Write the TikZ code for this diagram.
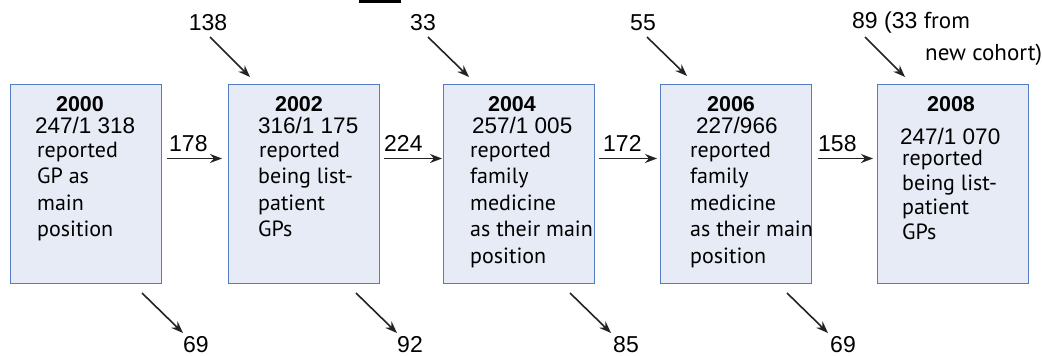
\documentclass[tikz,border=0pt]{standalone}
\usepackage{fontspec}
\setmainfont{Liberation Sans}
\newfontfamily\bodyf{PT Sans}
\usetikzlibrary{arrows.meta}
\definecolor{boxfill}{RGB}{230,235,246}
\definecolor{boxline}{RGB}{84,124,192}
\definecolor{arrcol}{RGB}{35,35,35}
\begin{document}
\begin{tikzpicture}[x=1pt,y=-1pt,
  box/.style={draw=boxline, fill=boxfill, line width=1.4pt, minimum width=151pt, minimum height=199pt, anchor=north west, inner sep=0pt},
  yr/.style={font=\bfseries\fontsize{21.5}{21.5}\selectfont, inner sep=0pt, anchor=base},
  num/.style={font=\fontsize{22.5}{22.5}\selectfont, inner sep=0pt, anchor=base west},
  body/.style={font=\bodyf\fontsize{22}{22}\selectfont, inner sep=0pt, anchor=base west},
  lab/.style={font=\fontsize{23}{23}\selectfont, inner sep=0pt},
  arr/.style={draw=arrcol, line width=1.6pt, -{Stealth[length=12pt,width=9pt]}}]
\useasboundingbox (0,0) rectangle (1042,356);
\fill[black] (359,0) rectangle (401,2.5);
% boxes
\node[box] (b1) at (10,84) {};
\node[box] (b2) at (228,84) {};
\node[box] (b3) at (443,84) {};
\node[box] (b4) at (660,84) {};
\node[box] (b5) at (877,84) {};
% box 1
\node[yr] (y1) at (80,111) {2000};
\node[num] (n1) at (35,133) {247/1 318};
\node[body] (t1a) at (37,157) {reported};
\node[body] (t1b) at (37,183.5) {GP as};
\node[body] (t1c) at (37,210) {main};
\node[body] (t1d) at (37,236.5) {position};
% box 2
\node[yr] (y2) at (299,111) {2002};
\node[num] (n2) at (258,133) {316/1 175};
\node[body] (t2a) at (259,157) {reported};
\node[body] (t2b) at (258,183.5) {being list-};
\node[body] (t2c) at (258,210) {patient};
\node[body] (t2d) at (258,236.5) {GPs};
% box 3
\node[yr] (y3) at (512,111) {2004};
\node[num] (n3) at (472,133) {257/1 005};
\node[body] (t3a) at (470,157) {reported};
\node[body] (t3b) at (470,183.5) {family};
\node[body] (t3c) at (470,210) {medicine};
\node[body] (t3d) at (470,236.5) {as their main};
\node[body] (t3e) at (470,263) {position};
% box 4
\node[yr] (y4) at (731,111) {2006};
\node[num] (n4) at (696,133) {227/966};
\node[body] (t4a) at (690,157) {reported};
\node[body] (t4b) at (690,183.5) {family};
\node[body] (t4c) at (690,210) {medicine};
\node[body] (t4d) at (690,236.5) {as their main};
\node[body] (t4e) at (690,263) {position};
% box 5
\node[yr] (y5) at (951,111) {2008};
\node[num] (n5) at (900,144) {247/1 070};
\node[body] (t5a) at (902,165) {reported};
\node[body] (t5b) at (902,190.5) {being list-};
\node[body] (t5c) at (902,214.5) {patient};
\node[body] (t5d) at (902,239.5) {GPs};
% horizontal arrows
\coordinate (h) at (0,158.5);
\draw[arr, shorten <=5pt, shorten >=6pt] (b1.east |- h) -- (b2.west |- h);
\draw[arr, shorten <=4pt, shorten >=1pt] (b2.east |- h) -- (b3.west |- h);
\draw[arr, shorten <=4pt, shorten >=3pt] (b3.east |- h) -- (b4.west |- h);
\draw[arr, shorten <=6pt, shorten >=4pt] (b4.east |- h) -- (b5.west |- h);
\node[lab, anchor=base west] (h1) at (169,151) {178};
\node[lab, anchor=base west] (h2) at (384,151) {224};
\node[lab, anchor=base west] (h3) at (603,151) {172};
\node[lab, anchor=base west] (h4) at (818,151) {158};
% top inflows
\node[lab] (i2) at (208,23) {138};
\node[lab] (i3) at (423,23) {33};
\node[lab] (i4) at (643,23) {55};
\node[lab, anchor=west] (i5) at (852,23) {89 (33 {\bodyf from}};
\node[lab, anchor=west] (i5b) at (925,55) {\bodyf new cohort)};
\coordinate (s2) at (210,37); \coordinate (e2) at (250,77);
\coordinate (s3) at (428,37); \coordinate (e3) at (469,77);
\coordinate (s4) at (647,37); \coordinate (e4) at (687,76);
\coordinate (s5) at (865,37); \coordinate (e5) at (905,77);
\draw[arr] (s2) -- (e2);
\draw[arr] (s3) -- (e3);
\draw[arr] (s4) -- (e4);
\draw[arr] (s5) -- (e5);
% bottom outflows
\coordinate (o1) at (142,293); \coordinate (p1) at (183,333);
\coordinate (o2) at (356,293); \coordinate (p2) at (397,333);
\coordinate (o3) at (570,293); \coordinate (p3) at (611,333);
\coordinate (o4) at (787,293); \coordinate (p4) at (828,333);
\draw[arr] (o1) -- (p1);
\draw[arr] (o2) -- (p2);
\draw[arr] (o3) -- (p3);
\draw[arr] (o4) -- (p4);
\node[lab] (q1) at (196,345) {69};
\node[lab] (q2) at (410,345) {92};
\node[lab] (q3) at (626,345) {85};
\node[lab] (q4) at (843,345) {69};
\end{tikzpicture}
\end{document}
